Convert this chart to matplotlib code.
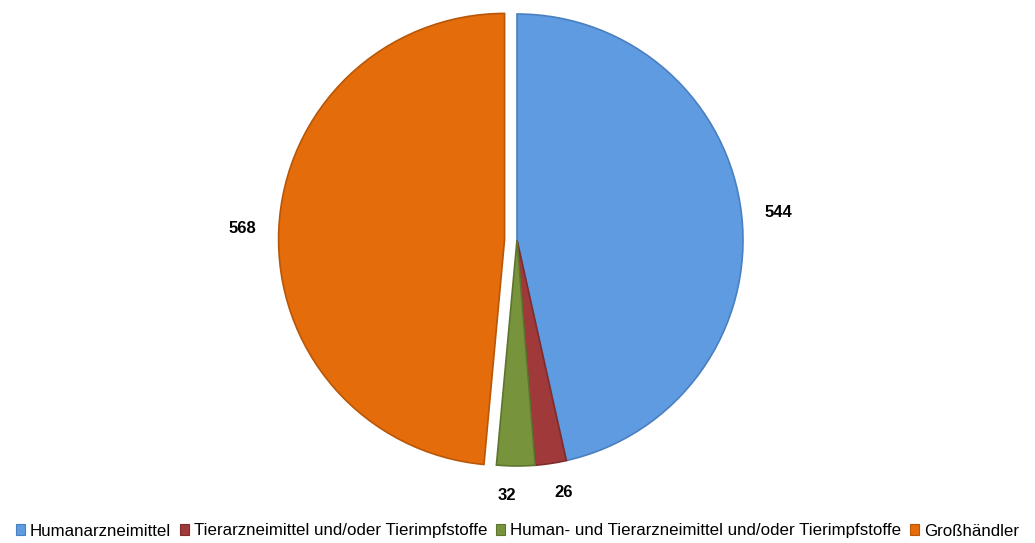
import matplotlib

matplotlib.use("Agg")

import matplotlib.pyplot as plt
from matplotlib.patches import Patch

plt.rcParams["font.family"] = ["Liberation Sans", "DejaVu Sans"]

categories = [
    "Humanarzneimittel",
    "Tierarzneimittel und/oder Tierimpfstoffe",
    "Human- und Tierarzneimittel und/oder Tierimpfstoffe",
    "Großhändler",
]
values = [544, 26, 32, 568]
colors = ["#5E9BE0", "#A0393A", "#77933C", "#E46C0A"]
edges = ["#4A80C0", "#7E2C2D", "#5E7530", "#B85708"]
explode = [0, 0, 0, 0.055]

W, H = 1035, 543
cx, cy, r = 517, 240, 226

fig = plt.figure(figsize=(W / 100, H / 100), dpi=100)
ax = fig.add_axes([0, 0, 1, 1])

wedges, texts = ax.pie(
    values,
    colors=colors,
    explode=explode,
    startangle=90,
    counterclock=False,
    labels=[str(v) for v in values],
    labeldistance=1.1,
    textprops={"fontsize": 12, "fontweight": "bold", "color": "black"},
    wedgeprops={"linewidth": 1.2},
    frame=True,
)
for w, ec in zip(wedges, edges):
    w.set_edgecolor(ec)
# the two small slices sit a bit further out, as in the original
for t in texts[1:3]:
    x, y = t.get_position()
    t.set_position((x, y - 0.03))
ax.set_xlim(-cx / r, (W - cx) / r)
ax.set_ylim(-(H - cy) / r, cy / r)
ax.set_aspect("auto")
ax.axis("off")

handles = [Patch(facecolor=c, edgecolor=e, linewidth=0.8) for c, e in zip(colors, edges)]
fig.legend(
    handles,
    categories,
    loc="center",
    bbox_to_anchor=(0.5, 1 - 531 / H),
    ncol=4,
    frameon=False,
    fontsize=12.2,
    handlelength=0.55,
    handleheight=0.55,
    handletextpad=0.3,
    columnspacing=0.5,
)

fig.savefig("out.png", dpi=100)
